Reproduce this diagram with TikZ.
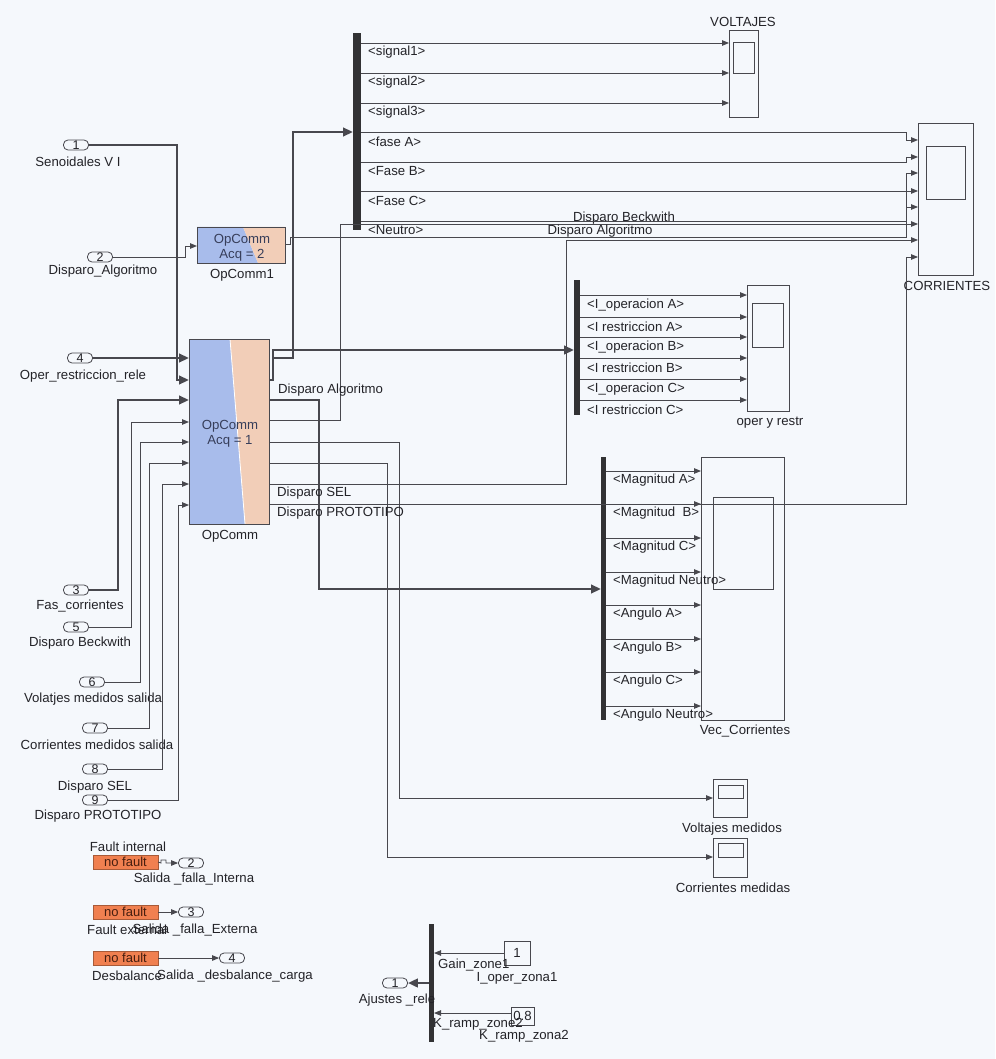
\documentclass[tikz,border=0pt]{standalone}
\usepackage{fontspec}
\setmainfont{Liberation Sans}
\usetikzlibrary{arrows.meta}
\definecolor{bg}{RGB}{245,248,252}
\definecolor{ln}{RGB}{72,72,78}
\definecolor{txt}{RGB}{35,35,40}
\definecolor{opblue}{RGB}{168,188,235}
\definecolor{oppeach}{RGB}{242,206,184}
\definecolor{optxt}{RGB}{55,62,90}
\definecolor{faultc}{RGB}{240,128,80}
\definecolor{faulttxt}{RGB}{70,30,15}
\definecolor{busc}{RGB}{50,50,52}
\begin{document}
\begin{tikzpicture}[x=1pt,y=-1pt,
  wire/.style={draw=ln, line width=0.9pt},
  fatwire/.style={draw=ln, line width=2.8pt},
  arr/.style={-{Triangle[length=7pt,width=5.5pt]}},
  fatarr/.style={-{Triangle[length=10pt,width=8.5pt]}},
  lbl/.style={font=\fontsize{13.2}{15}\selectfont, text=txt, inner sep=0pt},
  blk/.style={draw=ln, line width=0.8pt, inner sep=0pt, outer sep=0pt, anchor=north west},
  inport/.style={draw=ln, line width=0.8pt, rounded corners=4.5pt, minimum width=25pt, minimum height=10pt, inner sep=0pt, text=txt, font=\fontsize{12.5}{12}\selectfont},
  busbar/.style={fill=busc, inner sep=0pt, outer sep=0pt, anchor=north west},
  faultblk/.style={fill=faultc, draw=faultc!70!black, line width=0.6pt, inner sep=0pt, outer sep=0pt, anchor=north west, minimum width=65pt, minimum height=14pt, text=faulttxt, font=\fontsize{13}{14}\selectfont}
]
\fill[bg] (0,0) rectangle (995,1059);
\useasboundingbox (0,0) rectangle (995,1059);

% ---------- OpComm fills ----------
\fill[opblue] (197,227) -- (243,227) -- (258,263) -- (197,263) -- cycle;
\fill[oppeach] (243,227) -- (285,227) -- (285,263) -- (258,263) -- cycle;
\fill[opblue] (189,339) -- (230,339) -- (245,524) -- (189,524) -- cycle;
\fill[oppeach] (230,339) -- (269,339) -- (269,524) -- (245,524) -- cycle;
\draw[white, line width=0.8pt] (230,339) -- (245,524);

% ---------- blocks ----------
\node[blk, minimum width=88pt, minimum height=36pt] (oc1) at (197,227) {};
\node[blk, minimum width=80pt, minimum height=185pt] (oc) at (189,339) {};
\node[lbl, align=center, text=optxt] (oc1t) at (242,248) {OpComm\\Acq = 2};
\node[lbl, align=center, text=optxt] (oct) at (230,434) {OpComm\\Acq = 1};
\node[lbl] (oc1l) at (242,275) {OpComm1};
\node[lbl] (ocl) at (230,536) {OpComm};

\node[blk, minimum width=29pt, minimum height=87pt] (volt) at (729,30) {};
\draw[ln, line width=0.8pt] (733,42) rectangle (754,73);
\node[lbl] (voltl) at (743,22) {VOLTAJES};

\node[blk, minimum width=55pt, minimum height=152pt] (corr) at (918,123) {};
\draw[ln, line width=0.8pt] (926,146) rectangle (965,199);
\node[lbl] (corrl) at (947,286) {CORRIENTES};

\node[blk, minimum width=42pt, minimum height=126pt] (opr) at (747,285) {};
\draw[ln, line width=0.8pt] (752,303) rectangle (783,347);
\node[lbl] (oprl) at (770,423) {oper y restr};

\node[blk, minimum width=83pt, minimum height=263pt] (vec) at (701,457) {};
\draw[ln, line width=0.8pt] (713,497) rectangle (773,589);
\node[lbl] (vecl) at (745,731) {Vec\_Corrientes};

\node[blk, minimum width=34pt, minimum height=38pt] (vmed) at (713,779) {};
\draw[ln, line width=0.8pt] (718,785) rectangle (743,798);
\node[lbl] (vmedl) at (732,829) {Voltajes medidos};

\node[blk, minimum width=34pt, minimum height=39pt] (cmed) at (713,838) {};
\draw[ln, line width=0.8pt] (718,843) rectangle (743,857);
\node[lbl] (cmedl) at (733,888) {Corrientes medidas};

% bus bars
\node[busbar, minimum width=8pt, minimum height=197pt] (bus1) at (353,33) {};
\node[busbar, minimum width=6pt, minimum height=135pt] (bus2) at (574,280) {};
\node[busbar, minimum width=5pt, minimum height=263pt] (bus3) at (601,457) {};
\node[busbar, minimum width=5pt, minimum height=118pt] (bus4) at (429,924) {};

% ---------- ports (coordinates) ----------
\foreach \y [count=\i] in {358,380,400,422,442,463,484,505} \coordinate (oci\i) at (189,\y);
\foreach \y [count=\i] in {380,400,420,442,463,484,504} \coordinate (oco\i) at (269,\y);
\coordinate (oc1i) at (197,246);
\coordinate (oc1o) at (285,244);
\coordinate (b1i) at (353,132);
\foreach \y [count=\i] in {43,73,103,132,162,191,221} \coordinate (b1o\i) at (361,\y);
\foreach \y [count=\i] in {43,73,103} \coordinate (vi\i) at (729,\y);
\foreach \y [count=\i] in {140,157,173,191,207,224,240,257} \coordinate (ci\i) at (918,\y);
\coordinate (b2i) at (574,350);
\foreach \y [count=\i] in {295,317,337,358,379,400} {
  \coordinate (b2o\i) at (580,\y);
  \coordinate (opi\i) at (747,\y);
}
\coordinate (b3i) at (601,589);
\foreach \y [count=\i] in {471,504,538,572,605,639,672,706} {
  \coordinate (b3o\i) at (606,\y);
  \coordinate (vci\i) at (701,\y);
}
\coordinate (vmi) at (713,798);
\coordinate (cmi) at (713,857);

% ---------- inports ----------
\node[inport] (p1) at (76,145) {1};
\node[lbl] (p1l) at (78,162) {Senoidales V I};
\node[inport] (p2) at (100,257) {2};
\node[lbl] (p2l) at (103,271) {Disparo\_Algoritmo};
\node[inport] (p4) at (80,358) {4};
\node[lbl] (p4l) at (83,376) {Oper\_restriccion\_rele};
\node[inport] (p3) at (76,590) {3};
\node[lbl] (p3l) at (80,606) {Fas\_corrientes};
\node[inport] (p5) at (76,627) {5};
\node[lbl] (p5l) at (80,643) {Disparo Beckwith};
\node[inport] (p6) at (92,682) {6};
\node[lbl] (p6l) at (93,699) {Volatjes medidos salida};
\node[inport] (p7) at (95,728) {7};
\node[lbl] (p7l) at (97,745) {Corrientes medidos salida};
\node[inport] (p8) at (95,769) {8};
\node[lbl] (p8l) at (95,787) {Disparo SEL};
\node[inport] (p9) at (95,800) {9};
\node[lbl] (p9l) at (98,816) {Disparo PROTOTIPO};

% ---------- inputs to OpComm ----------
\draw[fatwire, fatarr] (p1.east) -- (177,145) -- (177,380) -- (oci2);
\draw[fatwire, fatarr] (p4.east) -- (oci1);
\draw[fatwire, fatarr] (p3.east) -- (118,590) -- (118,400) -- (oci3);
\draw[wire, arr] (p5.east) -- (131,627) -- (131,422) -- (oci4);
\draw[wire, arr] (p6.east) -- (140,682) -- (140,442) -- (oci5);
\draw[wire, arr] (p7.east) -- (149,728) -- (149,463) -- (oci6);
\draw[wire, arr] (p8.east) -- (162,769) -- (162,484) -- (oci7);
\draw[wire, arr] (p9.east) -- (178,800) -- (178,505) -- (oci8);
\draw[wire, arr] (p2.east) -- (185,257) -- (185,246) -- (oc1i);

% ---------- OpComm outputs ----------
\coordinate (br1) at (273,358);
\draw[fatwire, fatarr] (oco1) -- (273,380) -- (273,350) -- (b2i);
\draw[fatwire, fatarr] (br1) -- (293,358) -- (293,132) -- (b1i);
\draw[fatwire, fatarr] (oco2) -- (319,400) -- (319,589) -- (b3i);
\draw[wire, arr] (oco3) -- (340,420) -- (340,224) -- (ci6);
\draw[wire, arr] (oco4) -- (399,442) -- (399,798) -- (vmi);
\draw[wire, arr] (oco5) -- (387,463) -- (387,857) -- (cmi);
\draw[wire, arr] (oco6) -- (566,484) -- (566,240) -- (ci7);
\draw[wire, arr] (oco7) -- (906,504) -- (906,257) -- (ci8);
\draw[wire, arr] (oc1o) -- (290,244) -- (290,237) -- (906,237) -- (906,173) -- (ci3);

\node[lbl, anchor=west] (dal) at (278,390) {Disparo Algoritmo};
\node[lbl, anchor=west] (dsl) at (277,493) {Disparo SEL};
\node[lbl, anchor=west] (dpl) at (277,513) {Disparo PROTOTIPO};
\node[lbl] (dbl) at (624,218) {Disparo Beckwith};
\node[lbl] (dal2) at (600,231) {Disparo Algoritmo};

% ---------- bus 1 outputs ----------
\foreach \i in {1,2,3} \draw[wire, arr] (b1o\i) -- (vi\i);
\draw[wire, arr] (b1o4) -- (906,132) -- (906,140) -- (ci1);
\draw[wire, arr] (b1o5) -- (906,162) -- (906,157) -- (ci2);
\draw[wire, arr] (b1o6) -- (ci4);
\draw[wire, arr] (b1o7) -- (906,221) -- (906,207) -- (ci5);
\foreach \y/\t [count=\i] in {43/{<signal1>},73/{<signal2>},103/{<signal3>},132/{<fase A>},162/{<Fase B>},191/{<Fase C>},221/{<Neutro>}}
  \node[lbl, anchor=west] (b1l\i) at (368,\y+9.5) {\t};

% ---------- bus 2 outputs ----------
\foreach \i in {1,...,6} \draw[wire, arr] (b2o\i) -- (opi\i);
\foreach \y/\t [count=\i] in {295/{<I\_operacion A>},317/{<I restriccion A>},337/{<I\_operacion B>},358/{<I restriccion B>},379/{<I\_operacion C>},400/{<I restriccion C>}}
  \node[lbl, anchor=west] (b2l\i) at (587,\y+10) {\t};

% ---------- bus 3 outputs ----------
\foreach \i in {1,...,8} \draw[wire, arr] (b3o\i) -- (vci\i);
\foreach \y/\t [count=\i] in {471/{<Magnitud A>},504/{<Magnitud\ \ B>},538/{<Magnitud C>},572/{<Magnitud Neutro>},605/{<Angulo A>},639/{<Angulo B>},672/{<Angulo C>},706/{<Angulo Neutro>}}
  \node[lbl, anchor=west] (b3l\i) at (613,\y+9.5) {\t};

% ---------- fault blocks ----------
\node[faultblk] (f1) at (93,855) {no fault};
\node[faultblk] (f2) at (93,905) {no fault};
\node[faultblk] (f3) at (93,951) {no fault};
\node[lbl] (f1l) at (128,847) {Fault internal};
\node[lbl, anchor=west] (f2l) at (87,930) {Fault external};
\node[lbl, anchor=west] (f3l) at (92,976) {Desbalance};
\node[inport] (o2) at (191,863) {2};
\node[inport] (o3) at (191,912) {3};
\node[inport] (o4) at (232,958) {4};
\node[lbl] (o2l) at (194,879) {Salida \_falla\_Interna};
\node[lbl] (o3l) at (195,930) {Salida \_falla\_Externa};
\node[lbl] (o4l) at (235,976) {Salida \_desbalance\_carga};
\draw[wire, arr] (f1.east) -- (161,863) -- (161,860) -- (166,860) -- (166,863) -- (o2.west);
\draw[wire, arr] (f2.east) -- (o3.west);
\draw[wire, arr] (f3.east) -- (o4.west);

% ---------- bottom bus ----------
\node[blk, minimum width=26pt, minimum height=24pt, lbl] (k1) at (504,941) {1};
\node[blk, minimum width=23pt, minimum height=18pt, lbl] (k2) at (511,1007) {0.8};
\coordinate (b4i1) at (434,953);
\coordinate (b4i2) at (434,1013);
\coordinate (b4o) at (429,983);
\draw[wire, arr] (k1.west |- b4i1) -- (b4i1);
\draw[wire, arr] (k2.west |- b4i2) -- (b4i2);
\node[inport] (o1) at (395,983) {1};
\draw[fatwire, fatarr] (b4o) -- (o1.east);
\node[lbl] (o1l) at (397,1000) {Ajustes \_rele};
\node[lbl, anchor=west] (g1l) at (438,965) {Gain\_zone1};
\node[lbl] (k1l) at (517,978) {I\_oper\_zona1};
\node[lbl, anchor=west] (g2l) at (433,1024) {K\_ramp\_zone2};
\node[lbl] (k2l) at (524,1036) {K\_ramp\_zona2};
\end{tikzpicture}
\end{document}
